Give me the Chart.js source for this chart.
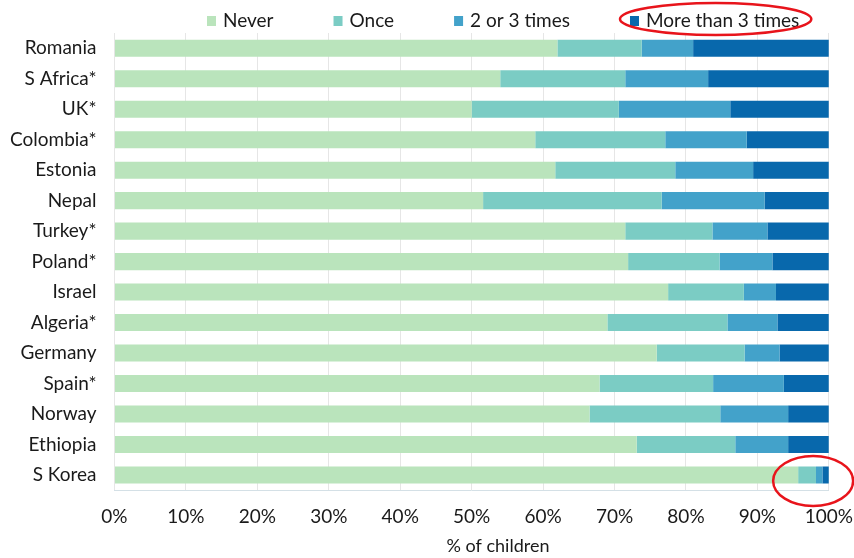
<!DOCTYPE html>
<html>
<head>
<meta charset="utf-8">
<script src="https://cdn.jsdelivr.net/npm/chart.js@4"></script>
<style>
  html, body { margin: 0; padding: 0; background: #fff; }
  #wrap { width: 854px; height: 558px; }
</style>
</head>
<body>
<div id="wrap"><canvas id="bullyChart" width="854" height="558"></canvas></div>
<script>
const countries = ["Romania", "S Africa*", "UK*", "Colombia*", "Estonia", "Nepal", "Turkey*", "Poland*",
  "Israel", "Algeria*", "Germany", "Spain*", "Norway", "Ethiopia", "S Korea"];
const never = [62.0, 54.0, 50.0, 58.9, 61.7, 51.6, 71.5, 71.9, 77.5, 69.0, 75.9, 67.9, 66.5, 73.1, 95.7];
const once = [11.8, 17.5, 20.6, 18.2, 16.8, 25.0, 12.2, 12.8, 10.6, 16.8, 12.3, 15.9, 18.3, 13.8, 2.5];
const twoOrThree = [7.2, 11.6, 15.6, 11.4, 10.9, 14.4, 7.7, 7.4, 4.5, 7.0, 4.9, 9.9, 9.5, 7.4, 0.9];
const moreThanThree = [19.0, 16.9, 13.8, 11.5, 10.6, 9.0, 8.6, 7.9, 7.4, 7.2, 6.9, 6.3, 5.7, 5.7, 0.9];
const xTicks = [0, 10, 20, 30, 40, 50, 60, 70, 80, 90, 100];
const xTitle = '% of children';

const font = "Lato, 'DejaVu Sans', sans-serif";
const textColor = '#1a1a1a';

// legend drawn by hand so the row sits tight above the plot with wide gaps between items
const topLegend = {
  id: 'topLegend',
  afterDraw(chart) {
    const ctx = chart.ctx;
    ctx.save();
    ctx.font = '19px ' + font;
    ctx.textBaseline = 'middle';
    let x = 207;
    const y = 20;
    chart.legendBoxes = [];
    chart.data.datasets.forEach(ds => {
      const w = ctx.measureText(ds.label).width;
      ctx.fillStyle = ds.backgroundColor;
      ctx.fillRect(x, y - 4, 9, 10);
      ctx.fillStyle = textColor;
      ctx.fillText(ds.label, x + 16, y + 1);
      chart.legendBoxes.push({ left: x, right: x + 16 + w });
      x += 16 + w + 60;
    });
    // axis title, sitting a bit right of the plot centre as in the original
    ctx.font = '18px ' + font;
    ctx.textAlign = 'center';
    ctx.fillText(xTitle, 498, 546);
    ctx.restore();
  }
};

// red circles around the last legend item and the S Korea bar end
const circles = {
  id: 'circles',
  afterDraw(chart) {
    const ctx = chart.ctx;
    const x = chart.scales.x, y = chart.scales.y;
    ctx.save();
    ctx.strokeStyle = '#e8141b';
    ctx.lineWidth = 2.5;
    const box = chart.legendBoxes[3];
    ctx.beginPath();
    ctx.ellipse((box.left + box.right) / 2 + 1, 19, (box.right - box.left) / 2 + 11, 16, 0, 0, Math.PI * 2);
    ctx.stroke();
    ctx.beginPath();
    ctx.ellipse(x.getPixelForValue(97.8), y.getPixelForValue(14) + 6, 40, 25, 0, 0, Math.PI * 2);
    ctx.stroke();
    ctx.restore();
  }
};

new Chart('bullyChart', {
  type: 'bar',
  data: {
    labels: countries,
    datasets: [
      { label: 'Never', data: never, backgroundColor: '#bae4bc' },
      { label: 'Once', data: once, backgroundColor: '#7bccc4' },
      { label: '2 or 3 times', data: twoOrThree, backgroundColor: '#43a2ca' },
      { label: 'More than 3 times', data: moreThanThree, backgroundColor: '#0868ac' }
    ]
  },
  options: {
    indexAxis: 'y',
    responsive: false,
    animation: false,
    layout: { padding: { left: 10, right: 2, top: 33, bottom: 29 } },
    datasets: { bar: { barPercentage: 0.56, categoryPercentage: 1, borderWidth: 0 } },
    plugins: {
      legend: { display: false },
      tooltip: { enabled: false }
    },
    scales: {
      x: {
        stacked: true, min: 0, max: 100,
        afterBuildTicks: axis => { axis.ticks = xTicks.map(v => ({ value: v })); },
        ticks: { callback: v => v + '%', color: textColor, font: { family: font, size: 19 }, padding: 1 },
        grid: { color: '#e6e6e6', drawTicks: true, tickLength: 14, tickColor: 'rgba(0,0,0,0)' },
        border: { color: '#d4e0e6' }
      },
      y: {
        stacked: true,
        ticks: { color: textColor, font: { family: font, size: 19 }, padding: 0 },
        grid: { display: false, drawTicks: true, tickLength: 18 },
        border: { display: false }
      }
    }
  },
  plugins: [topLegend, circles]
});
</script>
</body>
</html>
